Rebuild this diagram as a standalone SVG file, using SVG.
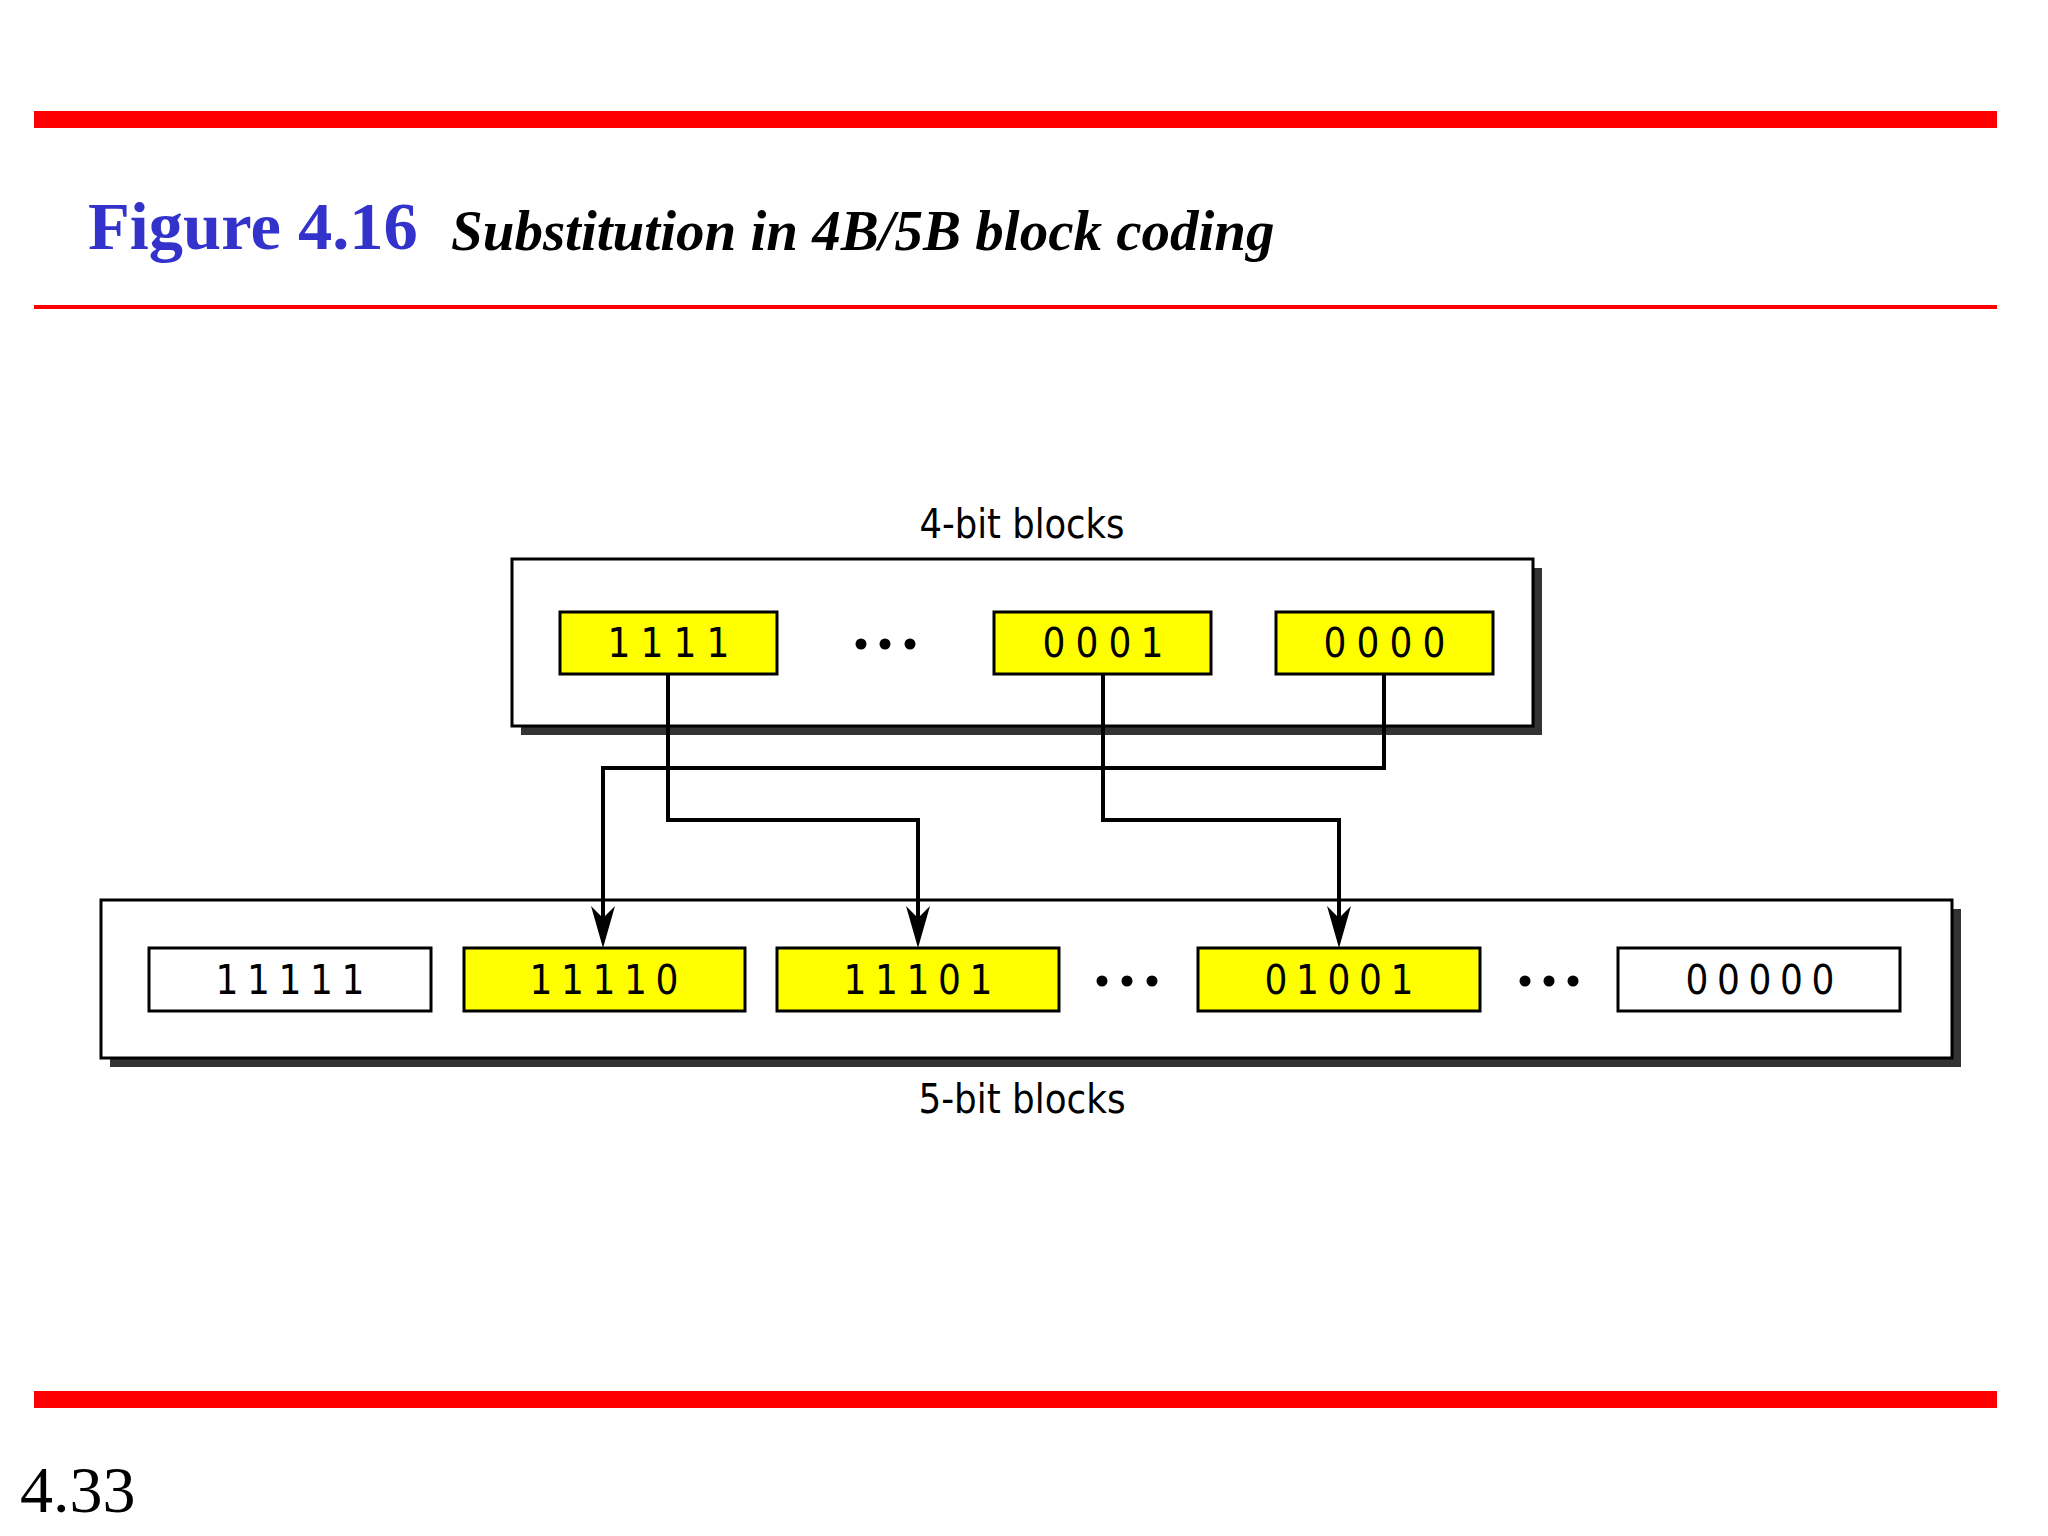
<svg xmlns="http://www.w3.org/2000/svg" xmlns:xlink="http://www.w3.org/1999/xlink" width="2048" height="1536" viewBox="0 0 2048 1536">
<style>
.bar{fill:#ff0000}
.frame{fill:#ffffff;stroke:#000000;stroke-width:3}
.shadow{fill:#333333}
.blk{stroke:#000000;stroke-width:3}
.y{fill:#ffff00}
.w{fill:#ffffff}
.dig{font-family:"DejaVu Sans Condensed","DejaVu Sans",sans-serif;font-stretch:condensed;font-size:40px;fill:#000;text-anchor:middle}
.lbl{font-family:"DejaVu Sans Condensed","DejaVu Sans",sans-serif;font-stretch:condensed;font-size:40px;fill:#000;text-anchor:middle}
.conn{fill:none;stroke:#000;stroke-width:4}
.dot{fill:#000}
</style>
<defs>
<path id="ah" d="M0,0 L-12,-42 L0,-30 L12,-42 Z" fill="#000"/>
</defs>
<rect width="2048" height="1536" fill="#ffffff"/>
<g id="header">
<rect class="bar" x="34" y="111" width="1963" height="17"/>
<rect class="bar" x="34" y="305" width="1963" height="4"/>
<rect class="bar" x="34" y="1391" width="1963" height="17"/>
<text x="88" y="249" font-family="'Liberation Serif','Times New Roman',serif" font-weight="bold" font-size="68.5" fill="#3333cc">Figure 4.16</text>
<text x="451" y="250" font-family="'Liberation Serif','Times New Roman',serif" font-weight="bold" font-style="italic" font-size="57" fill="#000">Substitution in 4B/5B block coding</text>
<text x="20" y="1512" font-family="'Liberation Serif','Times New Roman',serif" font-size="66" fill="#000">4.33</text>
</g>
<g id="four-bit-group">
<rect class="shadow" x="521" y="568" width="1021" height="167"/>
<rect class="frame" x="512" y="559" width="1021" height="167"/>
<text class="lbl" x="1022" y="538" textLength="205" lengthAdjust="spacingAndGlyphs">4-bit blocks</text>
</g>
<g id="b1111">
<rect class="blk y" x="560" y="612" width="217" height="62"/>
<text class="dig" x="619 652 685 718" y="657">1111</text>
</g>
<g id="dots-top">
<circle class="dot" cx="861" cy="644" r="5.5"/>
<circle class="dot" cx="885" cy="644" r="5.5"/>
<circle class="dot" cx="910" cy="644" r="5.5"/>
</g>
<g id="b0001">
<rect class="blk y" x="994" y="612" width="217" height="62"/>
<text class="dig" x="1054 1087 1120 1152" y="657">0001</text>
</g>
<g id="b0000">
<rect class="blk y" x="1276" y="612" width="217" height="62"/>
<text class="dig" x="1335 1368 1401 1434" y="657">0000</text>
</g>
<g id="five-bit-group">
<rect class="shadow" x="110" y="909" width="1851" height="158"/>
<rect class="frame" x="101" y="900" width="1851" height="158"/>
<text class="lbl" x="1022" y="1113" textLength="207" lengthAdjust="spacingAndGlyphs">5-bit blocks</text>
</g>
<g id="b11111">
<rect class="blk w" x="149" y="948" width="282" height="63"/>
<text class="dig" x="227 258.5 290 321.5 353" y="994">11111</text>
</g>
<g id="b11110">
<rect class="blk y" x="464" y="948" width="281" height="63"/>
<text class="dig" x="541 572.5 604 635.5 667" y="994">11110</text>
</g>
<g id="b11101">
<rect class="blk y" x="777" y="948" width="282" height="63"/>
<text class="dig" x="855 886.5 918 949.5 981" y="994">11101</text>
</g>
<g id="dots-bottom-1">
<circle class="dot" cx="1102" cy="981" r="5.5"/>
<circle class="dot" cx="1127" cy="981" r="5.5"/>
<circle class="dot" cx="1152" cy="981" r="5.5"/>
</g>
<g id="b01001">
<rect class="blk y" x="1198" y="948" width="282" height="63"/>
<text class="dig" x="1276 1307.5 1339 1370.5 1402" y="994">01001</text>
</g>
<g id="dots-bottom-2">
<circle class="dot" cx="1525" cy="981" r="5.5"/>
<circle class="dot" cx="1549" cy="981" r="5.5"/>
<circle class="dot" cx="1573" cy="981" r="5.5"/>
</g>
<g id="b00000">
<rect class="blk w" x="1618" y="948" width="282" height="63"/>
<text class="dig" x="1697 1728.5 1760 1791.5 1823" y="994">00000</text>
</g>
<g id="connectors">
<path class="conn" d="M668,674 V820 H918 V930"/>
<path class="conn" d="M1103,674 V820 H1339 V930"/>
<path class="conn" d="M1384,674 V768 H603 V930"/>
<use xlink:href="#ah" x="603" y="948"/>
<use xlink:href="#ah" x="918" y="948"/>
<use xlink:href="#ah" x="1339" y="948"/>
</g>
</svg>
